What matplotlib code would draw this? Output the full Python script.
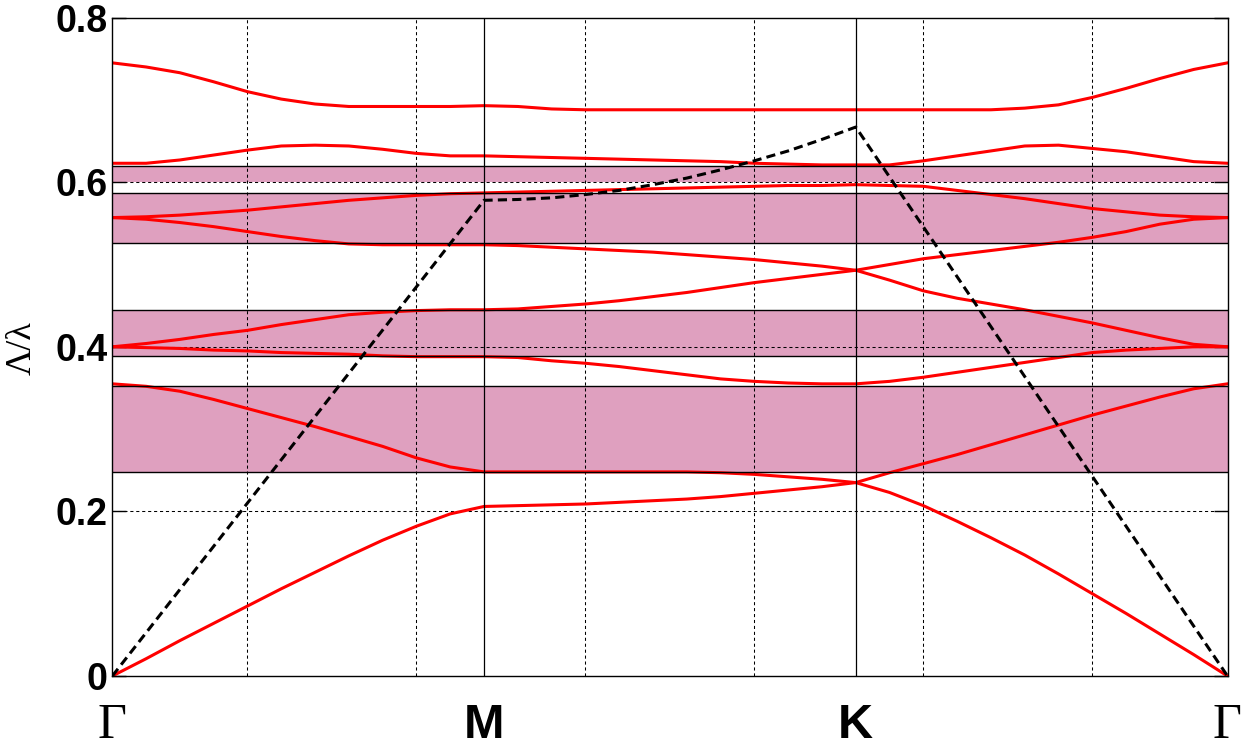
import matplotlib
matplotlib.use("Agg")
import matplotlib.pyplot as plt
from matplotlib.transforms import blended_transform_factory

# ---------------- data ----------------
k_index = list(range(1, 35))          # 34 k-points along Γ-M-K-Γ
k_label_pos = [1, 12, 23, 34]
k_label_txt = ["Γ", "M", "K", "Γ"]

band1 = [0.000, 0.021, 0.043, 0.064, 0.085, 0.106, 0.126, 0.146, 0.165, 0.182, 0.197, 0.206,
         0.207, 0.208, 0.209, 0.211, 0.213, 0.215, 0.218, 0.222, 0.226, 0.230, 0.235,
         0.223, 0.207, 0.188, 0.168, 0.147, 0.124, 0.100, 0.076, 0.051, 0.026, 0.000]
band2 = [0.355, 0.352, 0.346, 0.336, 0.325, 0.314, 0.303, 0.291, 0.279, 0.265, 0.254, 0.248,
         0.248, 0.248, 0.248, 0.248, 0.248, 0.248, 0.247, 0.245, 0.242, 0.239, 0.235,
         0.247, 0.258, 0.269, 0.281, 0.293, 0.305, 0.317, 0.328, 0.339, 0.349, 0.355]
band3 = [0.400, 0.399, 0.398, 0.396, 0.395, 0.393, 0.392, 0.391, 0.389, 0.388, 0.388, 0.388,
         0.387, 0.383, 0.380, 0.376, 0.371, 0.366, 0.361, 0.358, 0.356, 0.355, 0.355,
         0.358, 0.363, 0.369, 0.375, 0.381, 0.387, 0.393, 0.396, 0.398, 0.400, 0.400]
band4 = [0.400, 0.404, 0.409, 0.415, 0.420, 0.427, 0.433, 0.439, 0.442, 0.444, 0.445, 0.445,
         0.446, 0.449, 0.452, 0.456, 0.461, 0.466, 0.472, 0.478, 0.483, 0.488, 0.493,
         0.481, 0.468, 0.459, 0.452, 0.445, 0.437, 0.429, 0.420, 0.411, 0.403, 0.400]
band5 = [0.557, 0.555, 0.551, 0.546, 0.540, 0.534, 0.529, 0.525, 0.524, 0.524, 0.524, 0.524,
         0.523, 0.521, 0.519, 0.517, 0.515, 0.512, 0.509, 0.506, 0.502, 0.498, 0.493,
         0.500, 0.507, 0.512, 0.517, 0.522, 0.527, 0.533, 0.540, 0.549, 0.555, 0.557]
band6 = [0.557, 0.558, 0.560, 0.563, 0.566, 0.570, 0.574, 0.578, 0.581, 0.584, 0.586, 0.587,
         0.588, 0.589, 0.590, 0.591, 0.592, 0.593, 0.594, 0.595, 0.596, 0.596, 0.597,
         0.596, 0.595, 0.590, 0.585, 0.580, 0.574, 0.568, 0.564, 0.560, 0.558, 0.557]
band7 = [0.623, 0.623, 0.627, 0.633, 0.639, 0.644, 0.645, 0.644, 0.640, 0.635, 0.632, 0.632,
         0.631, 0.630, 0.629, 0.628, 0.627, 0.626, 0.625, 0.623, 0.622, 0.621, 0.621,
         0.621, 0.626, 0.632, 0.638, 0.644, 0.645, 0.641, 0.637, 0.631, 0.625, 0.623]
band8 = [0.745, 0.740, 0.733, 0.722, 0.710, 0.701, 0.695, 0.692, 0.692, 0.692, 0.692, 0.693,
         0.692, 0.689, 0.688, 0.688, 0.688, 0.688, 0.688, 0.688, 0.688, 0.688, 0.688,
         0.688, 0.688, 0.688, 0.688, 0.690, 0.694, 0.703, 0.714, 0.726, 0.737, 0.745]
bands = [band1, band2, band3, band4, band5, band6, band7, band8]

light_x = [1, 12, 13, 14, 15, 16, 17, 18, 19, 20, 21, 22, 23, 34]
light_y = [0.0, 0.578, 0.579, 0.581, 0.585, 0.590, 0.597, 0.605, 0.615, 0.626, 0.638, 0.652, 0.667, 0.0]

gap_lo = [0.2475, 0.3885, 0.5258, 0.600]
gap_hi = [0.3520, 0.4444, 0.5865, 0.6197]
edge_lines = [0.2475, 0.3520, 0.3885, 0.4444, 0.5258, 0.5865, 0.6197]

y_ticks = [0, 0.2, 0.4, 0.6, 0.8]
y_ticklabels = ["0", "0.2", "0.4", "0.6", "0.8"]
x_grid = [5, 10, 15, 20, 25, 30]

# ---------------- figure ----------------
W, H = 1254, 747
fig = plt.figure(figsize=(W / 100, H / 100), dpi=100)
ax = fig.add_axes([112.3 / W, (H - 676) / H, (1227.5 - 112.3) / W, (676 - 17.6) / H])

pink = "#DFA0BF"
for lo, hi in zip(gap_lo, gap_hi):
    ax.axhspan(lo, hi, color=pink, lw=0, zorder=0.5)

grid_kw = dict(color="black", lw=0.75, dashes=(3, 2.7), zorder=1.5)
for xv in x_grid:
    ax.axvline(xv, **grid_kw)
for yv in y_ticks[1:-1]:
    ax.axhline(yv, **grid_kw)

for b in bands:
    ax.plot(k_index, b, color="#FF0000", lw=2.2, zorder=3, solid_joinstyle="round")

for yv in edge_lines:
    ax.axhline(yv, color="black", lw=1.0, zorder=4)
for xv in k_label_pos[1:3]:
    ax.axvline(xv, color="black", lw=0.9, zorder=4)

ax.plot(light_x, light_y, color="black", lw=2.2, dashes=(3, 1.7), zorder=5)

ax.set_xlim(1, 34)
ax.set_ylim(0, 0.8)
ax.set_xticks([])
ax.set_yticks(y_ticks)
ax.set_yticklabels(y_ticklabels, fontfamily="Liberation Sans", fontweight="bold", fontsize=27)
ax.tick_params(axis="y", direction="in", length=10, width=1.0, pad=3.6, left=True, right=True)
for s in ax.spines.values():
    s.set_linewidth(1.0)
    s.set_zorder(6)

tr = blended_transform_factory(ax.transData, fig.transFigure)
for xv, t in zip(k_label_pos, k_label_txt):
    if t == "Γ":
        ax.text(xv, (H - 738) / H, t, transform=tr, ha="center", va="baseline",
                fontfamily="Liberation Serif", fontsize=36)
    else:
        ax.text(xv, (H - 738) / H, t, transform=tr, ha="center", va="baseline",
                fontfamily="Liberation Sans", fontweight="bold", fontsize=35)

fig.text(22 / W, (H - 348) / H, "Λ/λ", rotation=90, ha="center", va="center",
         fontfamily="Liberation Serif", fontsize=26)

fig.savefig("out.png", dpi=100)
